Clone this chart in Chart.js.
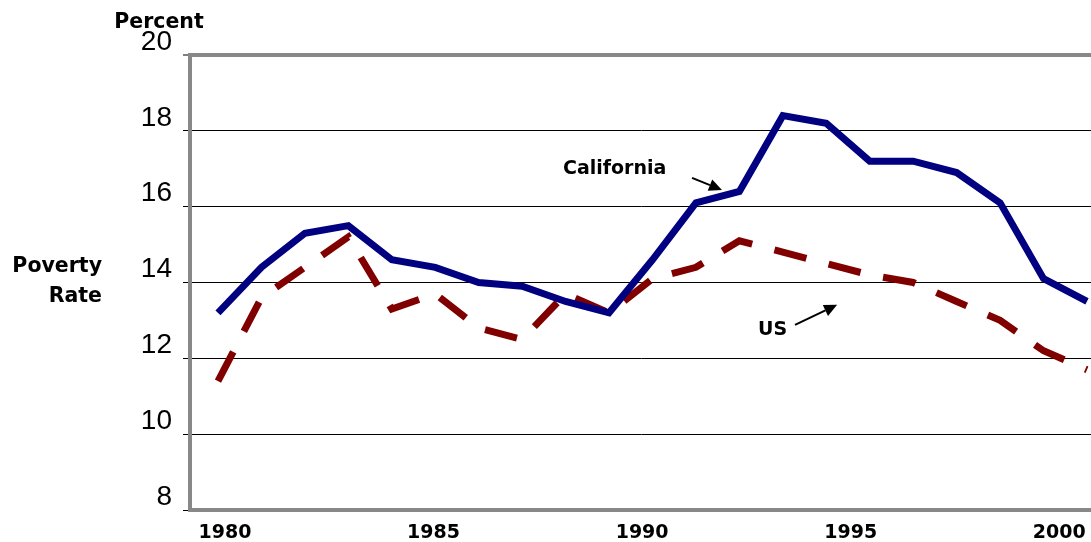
<!DOCTYPE html>
<html>
<head>
<meta charset="utf-8">
<title>Poverty Rate: California vs US, 1980-2000</title>
<script src="https://cdn.jsdelivr.net/npm/chart.js@4.4.1/dist/chart.umd.min.js"></script>
<style>
  html, body { margin: 0; padding: 0; background: #fff; overflow: hidden; }
  #wrap { width: 1091px; height: 542px; }
</style>
</head>
<body>
<div id="wrap"><canvas id="povertyChart" width="1091" height="542"></canvas></div>
<script>
// Poverty rate, percent
const years = [1980, 1981, 1982, 1983, 1984, 1985, 1986, 1987, 1988, 1989, 1990,
               1991, 1992, 1993, 1994, 1995, 1996, 1997, 1998, 1999, 2000];
const californiaRate = [13.2, 14.4, 15.3, 15.5, 14.6, 14.4, 14.0, 13.9, 13.5, 13.2, 14.6,
                        16.1, 16.4, 18.4, 18.2, 17.2, 17.2, 16.9, 16.1, 14.1, 13.5];
const usRate = [11.4, 13.6, 14.4, 15.2, 13.3, 13.7, 12.8, 12.5, 13.7, 13.2, 14.1,
                14.4, 15.1, 14.8, 14.5, 14.2, 14.0, 13.5, 13.0, 12.2, 11.7];

const yearTicks = [1980, 1985, 1990, 1995, 2000];
const rateTicks = [8, 10, 12, 14, 16, 18, 20];

// Series callouts, in data units: [year, percent]
const seriesNotes = [
  { text: 'California', at: [1987.94, 16.86], from: [1990.91, 16.76], to: [1991.60, 16.44] },
  { text: 'US',         at: [1992.43, 12.62], from: [1993.28, 12.88], to: [1994.25, 13.41] }
];

const BOLD_FONT = 'bold 19px "DejaVu Sans"';

// Draws the "California" / "US" labels with their little arrows
const calloutPlugin = {
  id: 'callouts',
  afterDatasetsDraw(chart) {
    const { ctx, scales: { x, y } } = chart;
    ctx.save();
    ctx.fillStyle = '#000';
    ctx.strokeStyle = '#000';
    ctx.font = BOLD_FONT;
    ctx.textAlign = 'left';
    ctx.textBaseline = 'alphabetic';

    seriesNotes.forEach(note => {
      ctx.fillText(note.text, x.getPixelForValue(note.at[0]), y.getPixelForValue(note.at[1]));

      const x1 = x.getPixelForValue(note.from[0]);
      const y1 = y.getPixelForValue(note.from[1]);
      const x2 = x.getPixelForValue(note.to[0]);
      const y2 = y.getPixelForValue(note.to[1]);
      const angle = Math.atan2(y2 - y1, x2 - x1);
      const headLen = 13;
      const headHalf = 6;

      // shaft stops where the head starts
      ctx.lineWidth = 2;
      ctx.beginPath();
      ctx.moveTo(x1, y1);
      ctx.lineTo(x2 - Math.cos(angle) * headLen, y2 - Math.sin(angle) * headLen);
      ctx.stroke();

      ctx.beginPath();
      ctx.moveTo(x2, y2);
      ctx.lineTo(x2 - Math.cos(angle) * headLen - Math.sin(angle) * headHalf,
                 y2 - Math.sin(angle) * headLen + Math.cos(angle) * headHalf);
      ctx.lineTo(x2 - Math.cos(angle) * headLen + Math.sin(angle) * headHalf,
                 y2 - Math.sin(angle) * headLen - Math.cos(angle) * headHalf);
      ctx.closePath();
      ctx.fill();
    });
    ctx.restore();
  }
};

// Axis captions that sit outside the plot box
const captionPlugin = {
  id: 'captions',
  afterDraw(chart) {
    const { ctx } = chart;
    ctx.save();
    ctx.fillStyle = '#000';
    ctx.font = 'bold 20.5px "DejaVu Sans"';
    ctx.textBaseline = 'alphabetic';

    ctx.textAlign = 'center';
    ctx.fillText('Percent', 159, 28);

    ctx.textAlign = 'right';
    ctx.fillText('Poverty', 102, 272);
    ctx.fillText('Rate', 102, 302);
    ctx.restore();
  }
};

const ctx = document.getElementById('povertyChart').getContext('2d');

new Chart(ctx, {
  type: 'line',
  data: {
    datasets: [
      {
        label: 'California',
        data: years.map((yr, i) => ({ x: yr, y: californiaRate[i] })),
        borderColor: '#000080',
        borderWidth: 7,
        pointRadius: 0,
        tension: 0,
        fill: false
      },
      {
        label: 'US',
        data: years.map((yr, i) => ({ x: yr, y: usRate[i] })),
        borderColor: '#800000',
        borderWidth: 7,
        borderDash: [33, 23],
        borderCapStyle: 'butt',
        pointRadius: 0,
        tension: 0,
        fill: false
      }
    ]
  },
  options: {
    responsive: false,
    animation: false,
    devicePixelRatio: 1,
    layout: { padding: { top: 55, right: 0, bottom: 0, left: 0 } },
    plugins: {
      legend: { display: false },
      tooltip: { enabled: false }
    },
    scales: {
      // data axis (hidden)
      x: {
        type: 'linear',
        display: false,
        min: 1979.356,
        max: 2000.092
      },
      // year labels along the bottom, spaced like the original
      xLabels: {
        type: 'linear',
        position: 'bottom',
        min: 1979.163,
        max: 2000.760,
        afterBuildTicks: scale => { scale.ticks = yearTicks.map(v => ({ value: v })); },
        afterFit: scale => {
          scale.height = 32;
          scale.paddingLeft = 0;
          scale.paddingRight = 0;
        },
        grid: { drawOnChartArea: false, drawTicks: false },
        border: { color: '#888', width: 4 },
        ticks: {
          autoSkip: false,
          maxRotation: 0,
          padding: 12,
          color: '#000',
          font: { family: 'DejaVu Sans', weight: 'bold', size: 19 },
          callback: v => String(v)
        }
      },
      y: {
        min: 8,
        max: 20,
        afterBuildTicks: scale => { scale.ticks = rateTicks.map(v => ({ value: v })); },
        afterFit: scale => { scale.width = 190; },
        grid: {
          color: c => {
            if (!c.tick) return '#000';
            if (c.tick.value === 20) return '#888';
            if (c.tick.value === 8) return 'rgba(0,0,0,0)';
            return '#000';
          },
          lineWidth: c => (c.tick && c.tick.value === 20 ? 4 : 1),
          tickLength: 7,
          tickColor: '#000',
          tickWidth: 1
        },
        border: { color: '#888', width: 4 },
        ticks: {
          padding: 11,
          labelOffset: -13,
          color: '#000',
          font: { family: 'Liberation Sans', size: 28 },
          callback: v => String(v)
        }
      }
    }
  },
  plugins: [calloutPlugin, captionPlugin]
});
</script>
</body>
</html>
